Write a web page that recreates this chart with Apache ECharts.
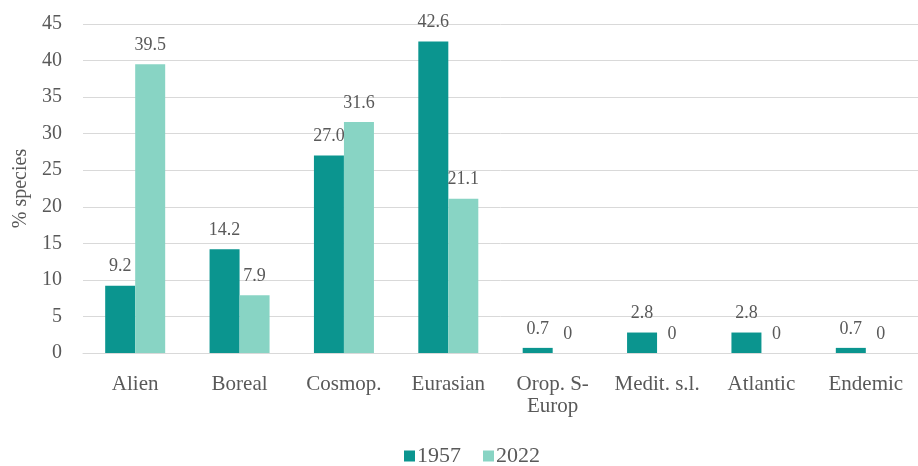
<!DOCTYPE html>
<html>
<head>
<meta charset="utf-8">
<script src="https://cdn.jsdelivr.net/npm/echarts@6/dist/echarts.min.js"></script>
<style>html,body{margin:0;padding:0;background:#fff}#c{width:918px;height:466px}</style>
</head>
<body>
<div id="c"></div>
<script>
var categories = ['Alien', 'Boreal', 'Cosmop.', 'Eurasian', 'Orop. S-\nEurop', 'Medit. s.l.', 'Atlantic', 'Endemic'];
var seriesNames = ['1957', '2022'];
var values1957 = [9.2, 14.2, 27.0, 42.6, 0.7, 2.8, 2.8, 0.7];
var values2022 = [39.5, 7.9, 31.6, 21.1, 0, 0, 0, 0];
var yTicks = [0, 5, 10, 15, 20, 25, 30, 35, 40, 45];

var FONT = '"Liberation Serif", serif';
var TXT = '#595959';
function fmt(p) { return p.value === 0 ? '0' : p.value.toFixed(1); }

var chart = echarts.init(document.getElementById('c'), null, {renderer: 'canvas'});
chart.setOption({
  animation: false,
  backgroundColor: '#fff',
  textStyle: {fontFamily: FONT, color: TXT},
  legend: {
    top: 444, left: 404, padding: 0,
    itemWidth: 11, itemHeight: 11, itemGap: 22,
    icon: 'rect',
    textStyle: {fontFamily: FONT, fontSize: 22, color: TXT, padding: [0, 0, 0, -3], lineHeight: 24},
    data: seriesNames
  },
  grid: {left: 83, top: 24, width: 845, height: 329, containLabel: false},
  xAxis: {
    type: 'category',
    data: categories,
    axisLine: {show: true, lineStyle: {color: '#d9d9d9', width: 1}},
    axisTick: {show: false},
    axisLabel: {fontFamily: FONT, fontSize: 21, color: TXT, margin: 20, lineHeight: 22, interval: 0}
  },
  yAxis: {
    type: 'value',
    min: yTicks[0], max: yTicks[yTicks.length - 1], interval: 5,
    name: '% species', nameLocation: 'middle', nameGap: 52, nameRotate: 90,
    nameTextStyle: {fontFamily: FONT, fontSize: 20, color: TXT},
    axisLine: {show: false}, axisTick: {show: false},
    axisLabel: {fontFamily: FONT, fontSize: 20, color: TXT, margin: 21},
    splitLine: {lineStyle: {color: '#d9d9d9', width: 1}}
  },
  series: [
    {
      name: seriesNames[0], type: 'bar', data: values1957,
      barWidth: 30, barGap: '0%',
      itemStyle: {color: '#0b958f'},
      label: {show: true, position: 'top', distance: 10, formatter: fmt, fontFamily: FONT, fontSize: 18, color: TXT}
    },
    {
      name: seriesNames[1], type: 'bar', data: values2022,
      barWidth: 30, barGap: '0%',
      itemStyle: {color: '#88d4c4'},
      label: {show: true, position: 'top', distance: 10, formatter: fmt, fontFamily: FONT, fontSize: 18, color: TXT}
    }
  ]
});
</script>
</body>
</html>
